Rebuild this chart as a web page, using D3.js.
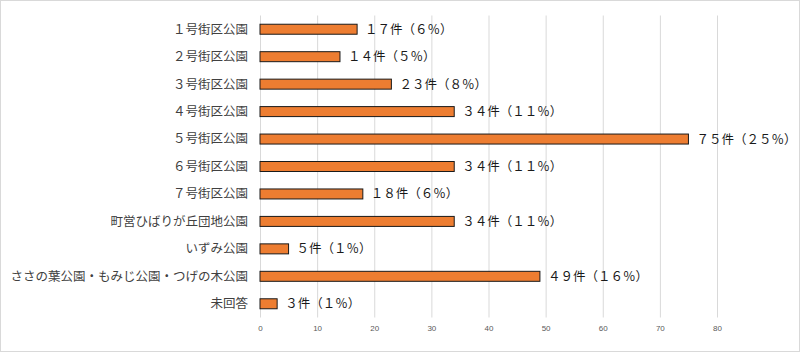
<!DOCTYPE html>
<html><head><meta charset="utf-8">
<script src="https://cdn.jsdelivr.net/npm/d3@7"></script>
<style>body{margin:0;background:#fff}svg{display:block}</style>
</head><body>
<svg id="c" width="800" height="352"></svg>
<script>
const categories = ["１号街区公園","２号街区公園","３号街区公園","４号街区公園","５号街区公園","６号街区公園","７号街区公園","町営ひばりが丘団地公園","いずみ公園","ささの葉公園・もみじ公園・つげの木公園","未回答"];
const counts = [17,14,23,34,75,34,18,34,5,49,3];
const percents = [6,5,8,11,25,11,6,11,1,16,1];
const xTicks = [0,10,20,30,40,50,60,70,80];

const toFull = s => String(s).replace(/[0-9]/g, d => String.fromCharCode(d.charCodeAt(0) + 0xFEE0));

const svg = d3.select("#c");
svg.append("rect").attr("x",0.5).attr("y",0.5).attr("width",799).attr("height",351)
  .attr("fill","#fff").attr("stroke","#d9d9d9");

const x = d3.scaleLinear().domain([0,80]).range([260,717]);
const y = d3.scaleBand().domain(categories).range([15.5,317.5]).paddingInner(0.636).paddingOuter(0.318);

const xAxis = d3.axisBottom(x).tickValues(xTicks).tickSize(-302).tickPadding(8);
const gx = svg.append("g").attr("transform","translate(0,317.5)").call(xAxis);
gx.select(".domain").remove();
gx.selectAll("line").attr("stroke","#d9d9d9");
gx.selectAll("text").attr("fill","#595959").style("font-family","Liberation Sans, Arial, sans-serif").style("font-size","8px");

const font = "'Noto Sans CJK JP', sans-serif";
svg.append("g").selectAll("text").data(categories).join("text")
  .attr("x",248).attr("y",d=>y(d)+y.bandwidth()/2).attr("dy","0.35em")
  .attr("text-anchor","end").attr("fill","#404040")
  .style("font-family",font).style("font-size","12.5px").text(d=>d);

svg.append("g").selectAll("rect").data(counts).join("rect")
  .attr("x",x(0)).attr("y",(d,i)=>y(categories[i]))
  .attr("width",d=>x(d)-x(0)).attr("height",y.bandwidth())
  .attr("fill","#ED7D31").attr("stroke","#1a1a1a").attr("stroke-width",1);

svg.append("g").selectAll("text").data(counts).join("text")
  .attr("x",d=>x(d)+8).attr("y",(d,i)=>y(categories[i])+y.bandwidth()/2).attr("dy","0.36em")
  .attr("fill","#1a1a1a").style("font-family",font).style("font-size","12.5px")
  .text((d,i)=>toFull(d)+"件（"+toFull(percents[i])+"％）");
</script>
</body></html>
